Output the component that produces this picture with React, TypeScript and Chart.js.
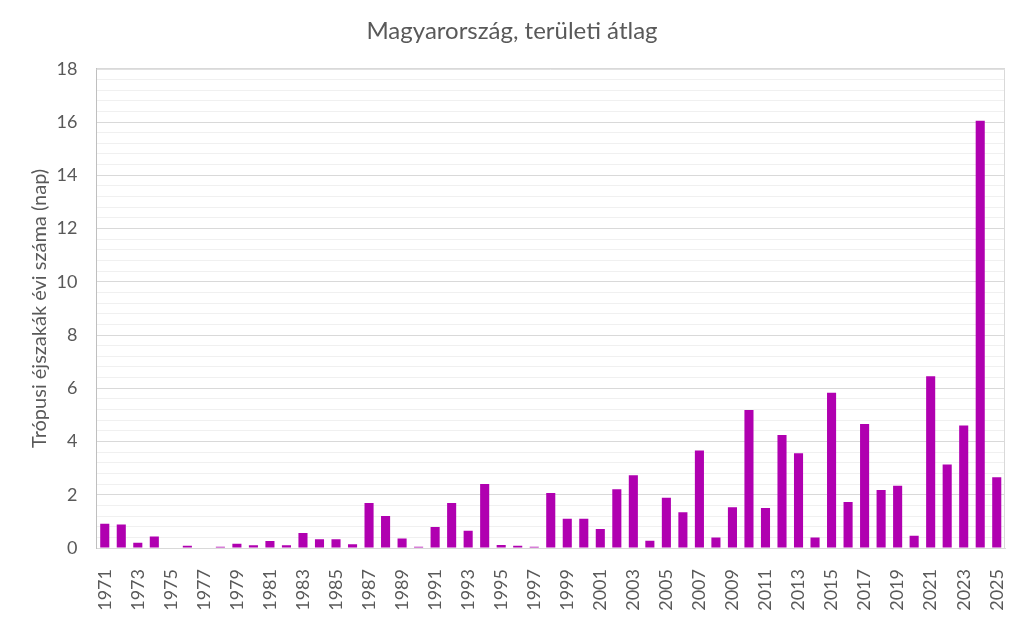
import React, { useEffect, useRef } from "react";
import { Chart, registerables } from "chart.js";

Chart.register(...registerables);

const years: string[] = [];
for (let y = 1971; y <= 2025; y++) years.push(String(y));

const values: number[] = [
  0.91, 0.88, 0.2, 0.43, 0.0, 0.08, 0.0, 0.05, 0.16, 0.1,
  0.26, 0.1, 0.56, 0.33, 0.33, 0.14, 1.69, 1.2, 0.36, 0.05,
  0.79, 1.69, 0.65, 2.4, 0.11, 0.08, 0.05, 2.07, 1.1, 1.1,
  0.71, 2.21, 2.73, 0.27, 1.89, 1.34, 3.66, 0.39, 1.53, 5.18,
  1.5, 4.24, 3.56, 0.39, 5.83, 1.73, 4.66, 2.18, 2.34, 0.46,
  6.45, 3.14, 4.6, 16.05, 2.66,
];

const titleText = "Magyarország, területi átlag";
const yAxisTitle = "Trópusi éjszakák évi száma (nap)";
const yMax = 18;
const yMinorStep = 0.4;
const yMajorStep = 2;

const FONT = "Lato, 'Open Sans', sans-serif";
const TEXT = "#595959";
const BAR = "#B000B0";

const isMajor = (v: number) =>
  Math.abs(v / yMajorStep - Math.round(v / yMajorStep)) < 1e-6;

const framePlugin = {
  id: "frame",
  afterDraw(chart: any) {
    const { ctx, chartArea } = chart;
    ctx.save();
    ctx.strokeStyle = "#d9d9d9";
    ctx.lineWidth = 1;
    ctx.beginPath();
    ctx.moveTo(chartArea.left, chartArea.top + 0.5);
    ctx.lineTo(chartArea.right - 0.5, chartArea.top + 0.5);
    ctx.lineTo(chartArea.right - 0.5, chartArea.bottom);
    ctx.stroke();
    ctx.restore();
  },
};

export default function App() {
  const ref = useRef<HTMLCanvasElement>(null);

  useEffect(() => {
    document.body.style.margin = "0";
    if (!ref.current) return;
    const chart = new Chart(ref.current, {
      type: "bar",
      data: {
        labels: years,
        datasets: [
          {
            data: values,
            backgroundColor: BAR,
            borderWidth: 0,
            barPercentage: 0.55,
            categoryPercentage: 1,
          },
        ],
      },
      options: {
        responsive: false,
        animation: false,
        devicePixelRatio: 1,
        layout: { padding: 0 },
        plugins: {
          legend: { display: false },
          tooltip: { enabled: false },
          title: {
            display: true,
            text: titleText,
            color: TEXT,
            font: { family: FONT, size: 24, weight: "normal" },
            padding: { top: 17, bottom: 23 },
          },
        },
        scales: {
          x: {
            type: "category",
            grid: { display: false },
            border: { display: true, color: "#d9d9d9" },
            ticks: {
              color: TEXT,
              font: { family: FONT, size: 18 },
              autoSkip: false,
              maxRotation: 90,
              minRotation: 90,
              padding: 13,
              callback: (_v: any, i: number) => (i % 2 === 0 ? years[i] : ""),
            },
            afterFit: (s: any) => {
              s.height = 70;
              s.paddingLeft = 0;
              s.paddingRight = 0;
            },
          },
          y: {
            type: "linear",
            min: 0,
            max: yMax,
            grid: {
              drawTicks: false,
              color: (c: any) =>
                c.tick && isMajor(c.tick.value) ? "#d9d9d9" : "#f0f0f0",
            },
            border: { display: true, color: "#bfbfbf" },
            ticks: {
              stepSize: yMinorStep,
              autoSkip: false,
              color: TEXT,
              font: { family: FONT, size: 18 },
              padding: 19,
              callback: (v: any) =>
                isMajor(Number(v)) ? String(Math.round(Number(v))) : "",
            },
            title: {
              display: true,
              text: yAxisTitle,
              color: TEXT,
              font: { family: FONT, size: 20 },
              padding: { top: 28, bottom: 0 },
            },
            afterFit: (s: any) => {
              s.width = 96.5;
              s.paddingTop = 0;
              s.paddingBottom = 0;
            },
          },
          y2: {
            type: "linear",
            position: "right",
            grid: { drawOnChartArea: false, drawTicks: false },
            border: { display: false },
            ticks: { display: false },
            afterFit: (s: any) => {
              s.width = 19;
              s.paddingTop = 0;
              s.paddingBottom = 0;
            },
          },
        },
      },
      plugins: [framePlugin],
    });
    return () => chart.destroy();
  }, []);

  return (
    <div style={{ width: 1024, height: 618, background: "#fff" }}>
      <canvas ref={ref} width={1024} height={618} />
    </div>
  );
}
